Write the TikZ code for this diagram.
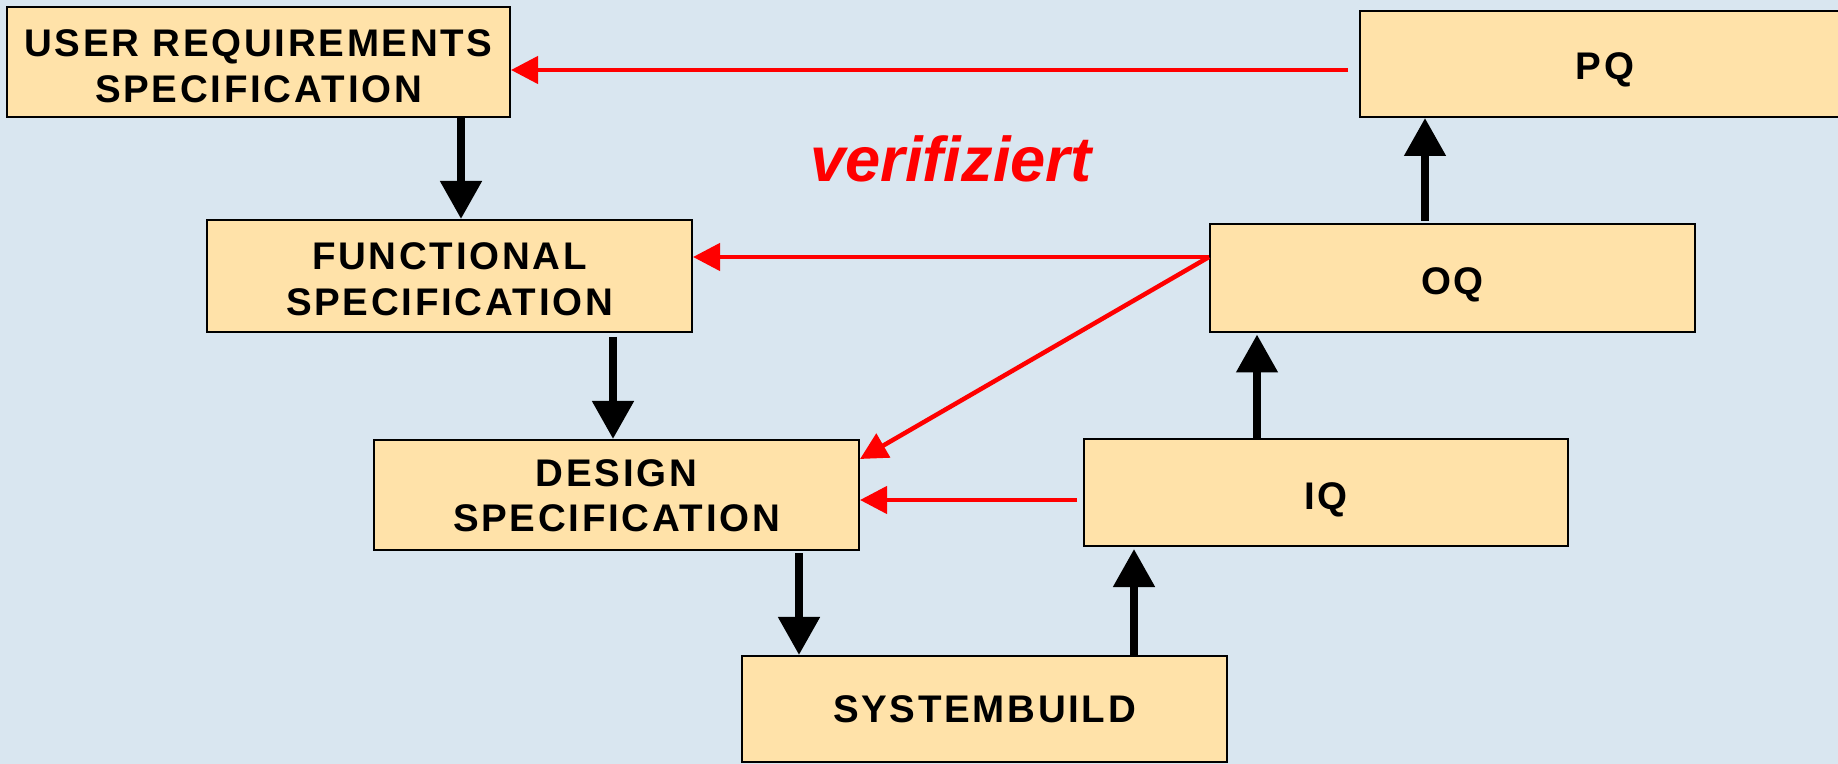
\documentclass[tikz,border=0pt]{standalone}
\usepackage{fontspec}
\setmainfont{Liberation Sans}
\usetikzlibrary{arrows.meta}
\definecolor{bg}{RGB}{217,230,240}
\definecolor{boxfill}{RGB}{255,226,169}
\definecolor{vred}{RGB}{255,0,0}
\newcommand\myboxfont{\bfseries\addfontfeature{LetterSpace=7}\fontsize{15.4}{18.4}\selectfont}
\newcommand\lowr[2]{\raisebox{-#1}[\height][\depth]{#2}}
\tikzset{
  box/.style={draw=black, line width=0.8pt, fill=boxfill, inner sep=0pt, align=center, font=\myboxfont},
  blk/.style={draw=black, line width=3.2pt, -{Triangle[length=15.2pt,width=16pt]}},
  redarr/.style={draw=vred, line width=1.8pt, -{Triangle[length=10.8pt,width=10.8pt]}},
}
\begin{document}
\begin{tikzpicture}[x=0.4pt,y=-0.4pt]
\useasboundingbox (0,0) rectangle (1838,764);
\fill[bg] (0,0) rectangle (1838,764);

\node[box, minimum width=201.2pt, minimum height=44pt] (URS) at (258.5,62) {\lowr{1.8pt}{USER REQUIREMENTS}\\\lowr{1.6pt}{SPECIFICATION}};
\node[box, minimum width=196pt, minimum height=42.4pt] (PQ) at (1605,64) {\lowr{2.3pt}{PQ}};
\node[box, minimum width=194pt, minimum height=44.8pt] (FS) at (449.5,276) {\lowr{1.4pt}{FUNCTIONAL}\\\lowr{1.2pt}{SPECIFICATION}};
\node[box, minimum width=194pt, minimum height=43.2pt] (OQ) at (1452.5,278) {\lowr{2.6pt}{OQ}};
\node[box, minimum width=194pt, minimum height=44pt] (DS) at (616.5,495) {\lowr{0.6pt}{DESIGN}\\\lowr{0.2pt}{SPECIFICATION}};
\node[box, minimum width=193.6pt, minimum height=42.8pt] (IQ) at (1326,493) {\lowr{2.6pt}{IQ}};
\node[box, minimum width=194pt, minimum height=42.4pt] (SB) at (984.5,709) {SYSTEMBUILD};

\node[font=\bfseries\itshape\fontsize{25.3}{30}\selectfont, text=vred, anchor=base, inner sep=0pt] (ver) at (951,182) {verifiziert};

% columns for black arrows
\coordinate (c1) at (461,0);
\coordinate (c2) at (613,0);
\coordinate (c3) at (799,0);
\coordinate (c4) at (1134,0);
\coordinate (c5) at (1257,0);
\coordinate (c6) at (1425,0);
\draw[blk] (URS.south -| c1) -- (FS.north -| c1);
\draw[blk, shorten <=1.6pt] (FS.south -| c2) -- (DS.north -| c2);
\draw[blk, shorten <=1pt] (DS.south -| c3) -- (SB.north -| c3);
\draw[blk, shorten >=0.6pt] (SB.north -| c4) -- (IQ.south -| c4);
\draw[blk, shorten >=0.6pt] (IQ.north -| c5) -- (OQ.south -| c5);
\draw[blk, shorten <=0.8pt] (OQ.north -| c6) -- (PQ.south -| c6);

% rows for red arrows
\coordinate (r1) at (0,70);
\coordinate (r2) at (0,257);
\coordinate (r3) at (0,459);
\coordinate (r4) at (0,500);
\draw[redarr, shorten <=4.4pt] (PQ.west |- r1) -- (URS.east |- r1);
\draw[redarr] (OQ.west |- r2) -- (FS.east |- r2);
\draw[redarr] (OQ.west |- r2) -- (DS.east |- r3);
\draw[redarr, shorten <=2.4pt] (IQ.west |- r4) -- (DS.east |- r4);
\end{tikzpicture}
\end{document}
